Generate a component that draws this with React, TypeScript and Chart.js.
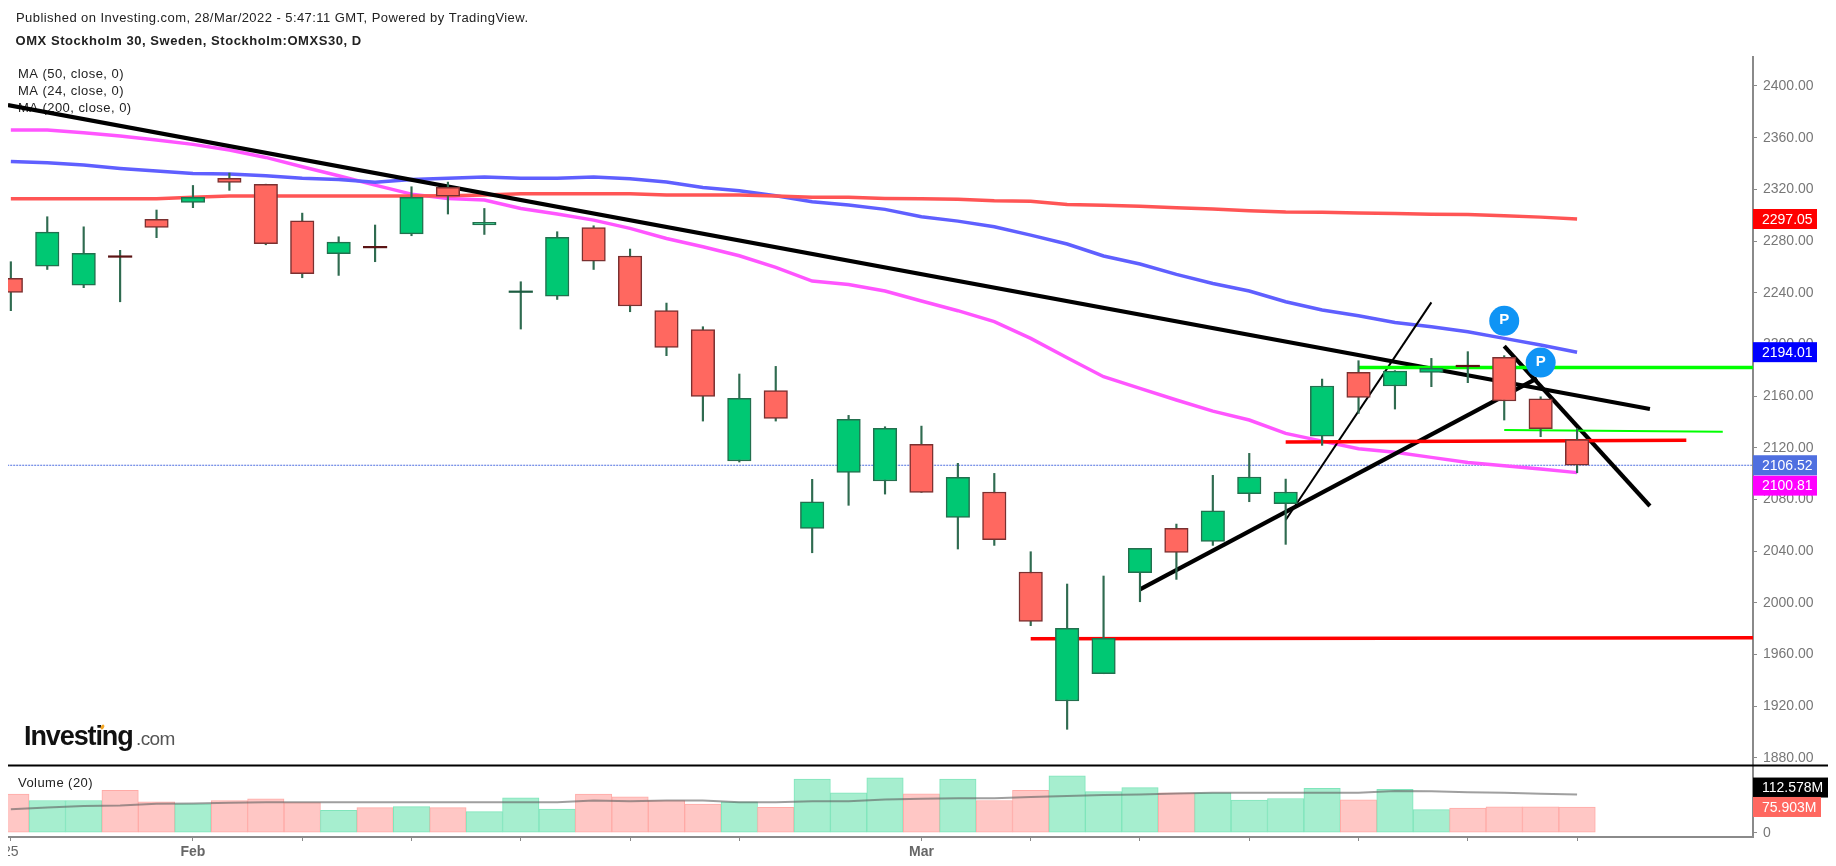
import React, { useEffect, useRef } from "react";
import { Chart, registerables } from "chart.js";

Chart.register(...registerables);

const opens = [2251.1, 2260.6, 2245.9, 2268.6, 2296.7, 2309.9, 2328.5, 2323.8, 2295.7, 2270.2, 2275.9, 2285.6, 2321.5, 2292.4, 2240.2, 2237.4, 2290.5, 2268.4, 2226.1, 2211.4, 2109.8, 2164.2, 2057.7, 2101, 2094.3, 2122.7, 2066.2, 2085.8, 2023.9, 1924.1, 1945.2, 2023.4, 2057.7, 2047.6, 2084.5, 2076.8, 2129.1, 2178.4, 2167.8, 2178.4, 2183.9, 2190, 2158, 2126.3];
const closes = [2240.3, 2286.9, 2270.4, 2267.4, 2290.5, 2313.8, 2325.4, 2277.9, 2254.7, 2279.2, 2274.7, 2313.8, 2314.8, 2294.4, 2241.4, 2282.8, 2264.5, 2229.7, 2197.7, 2159.8, 2158.2, 2142.8, 2078.3, 2142, 2135, 2085.5, 2097.1, 2048.9, 1985.7, 1980.3, 1972.6, 2042.2, 2039.1, 2071.3, 2097.4, 2085.8, 2167.8, 2159, 2179.4, 2181.5, 2182.7, 2156.2, 2134.8, 2106.52];
const highs = [2264, 2298.8, 2291, 2272.8, 2304, 2323, 2332.6, 2324, 2301.6, 2283.3, 2292.4, 2322, 2325.6, 2305.2, 2248.5, 2287.2, 2291.8, 2273.8, 2232, 2213.7, 2177.1, 2183, 2095.6, 2145.1, 2136.3, 2136.8, 2108, 2100.2, 2039.6, 2014.6, 2020.8, 2042.2, 2061, 2098.7, 2115.7, 2095.8, 2173.2, 2187.4, 2179.7, 2189.2, 2194.4, 2191.3, 2159.5, 2135];
const lows = [2226.1, 2258, 2243.9, 2233, 2282.6, 2305.8, 2319.2, 2277.1, 2251.6, 2253.4, 2264, 2284.1, 2300.9, 2285.1, 2211.9, 2234.8, 2258, 2225.3, 2191.3, 2140.7, 2109, 2140.7, 2038.8, 2075.5, 2084.2, 2085.5, 2041.7, 2044.5, 1982.4, 1902.2, 1945.2, 2000.9, 2018.2, 2044.5, 2078.3, 2045.3, 2121.9, 2146.6, 2150, 2167.3, 2170.4, 2141.5, 2128.6, 2100.7];
const ma50 = [2341.6, 2340.6, 2338.8, 2336.2, 2334.1, 2332.3, 2331.8, 2330.5, 2328.5, 2327.7, 2325.4, 2327.7, 2328.5, 2329.5, 2328.5, 2328.5, 2329.5, 2328.2, 2325.6, 2321.5, 2318.9, 2315, 2310.4, 2307.8, 2304.5, 2298.8, 2295.4, 2291.1, 2284.6, 2277.7, 2268.4, 2262.2, 2254.2, 2247.2, 2241.3, 2233, 2226.6, 2222.2, 2217, 2213.7, 2209.8, 2204.7, 2199.5, 2194.01];
const ma24 = [2365.9, 2365.9, 2363.8, 2361.2, 2358.1, 2354.8, 2350.4, 2344.7, 2337.5, 2330.5, 2323.3, 2316.3, 2313, 2311.7, 2305.2, 2300.9, 2296.2, 2289.8, 2282, 2275.6, 2268.6, 2259.6, 2249, 2246.4, 2241.3, 2233.6, 2226.1, 2217.6, 2204.7, 2189.7, 2175, 2166, 2157, 2148.4, 2141.5, 2131.2, 2125.2, 2119.3, 2116.5, 2112.6, 2108.7, 2106.2, 2103.6, 2100.81];
const ma200 = [2312.7, 2312.7, 2312.7, 2312.7, 2312.7, 2313.8, 2314.8, 2314.8, 2314.8, 2314.8, 2314.8, 2314.8, 2315, 2315.6, 2316.6, 2316.6, 2316.6, 2316.6, 2315.6, 2315.6, 2315.6, 2314.8, 2313.8, 2313.8, 2313, 2312.7, 2312.4, 2311.2, 2310.7, 2308.3, 2307.6, 2307, 2305.8, 2304.8, 2303.4, 2302.4, 2302.2, 2301.6, 2301.3, 2300.8, 2300.5, 2299.5, 2298.5, 2297.05];
const volumes = [114, 95, 95, 125, 91, 85.5, 95, 100, 88.5, 66, 74, 77, 74, 62, 103, 70, 114, 106, 95, 84.5, 91.4, 75, 158, 118, 162, 115, 158, 95, 125, 168, 121, 133, 118, 118, 96, 101, 131, 97, 128, 68, 73, 76, 76, 75.903];
const volumeMa = [69, 74, 79, 80.6, 85.5, 86.5, 88.5, 90, 90, 90, 90, 90, 90, 90, 90, 90, 95, 93, 95, 95, 90, 90, 93, 93, 98, 100, 102, 102, 105, 108, 111, 113, 116, 118, 118, 118, 117.5, 118, 123, 122, 119, 118, 115, 112.578];

const priceTicks = [1880, 1920, 1960, 2000, 2040, 2080, 2120, 2160, 2200, 2240, 2280, 2320, 2360, 2400];
const volumeTicks = [0, 112.578];
const dateTickIndex = [0, 5, 8, 11, 14, 17, 20, 25, 28, 31, 34, 37, 40, 43];
const dateTickLabels = ["25", "Feb", "", "", "", "", "", "Mar", "", "", "", "", "", ""];

const longTrend = [[-0.08, 2385.2], [45, 2150]];
const steepTrend = [[35, 2064.1], [39, 2232.5]];
const risingTrend = [[31, 2010.5], [41.9, 2173.7]];
const fallingTrend = [[41, 2198.7], [45, 2075]];
const greenUpper = [[37, 2182.2], [47.9, 2182.2]];
const greenLower = [[41, 2133.8], [47, 2132.5]];
const redUpper = [[35, 2124.5], [46, 2125.8]];
const redLower = [[28, 1972.3], [47.9, 1973]];
const lastPrice = [[-0.1, 2106.52], [47.9, 2106.52]];
const pMarkers = [[41, 2218.3], [42, 2186]];

const titleLine = "Published on Investing.com, 28/Mar/2022 - 5:47:11 GMT, Powered by TradingView.";
const symbolLine = "OMX Stockholm 30, Sweden, Stockholm:OMXS30, D";
const maLegend = ["MA (50, close, 0)", "MA (24, close, 0)", "MA (200, close, 0)"];
const volumeLegend = "Volume (20)";

const FONT = '"Liberation Sans", Arial, sans-serif';
const pts = (a: number[][]) => a.map(([x, y]) => ({ x, y }));
const pairs = (a: number[]) => a.map((y, x) => [x, y]);
const isUp = (i: number) => closes[i] >= opens[i];
const isDoji = (i: number) => Math.abs(closes[i] - opens[i]) < 1.6;

const overlay = {
  id: "overlay",
  beforeDatasetsDraw(chart: any) {
    const c = chart.ctx;
    c.save();
    c.textBaseline = "middle";
    c.textAlign = "left";
    c.fillStyle = "#222";
    c.font = `13px ${FONT}`;
    c.letterSpacing = "0.44px";
    c.fillText(titleLine, 8, 10);
    c.font = `bold 13px ${FONT}`;
    c.letterSpacing = "0.55px";
    c.fillText(symbolLine, 7.5, 33);
    c.font = `13px ${FONT}`;
    c.letterSpacing = "0.45px";
    c.fillText(maLegend[0], 10, 66);
    c.fillText(maLegend[1], 10, 83);
    c.fillText(maLegend[2], 10, 100);
    c.fillText(volumeLegend, 10, 775);
    c.textBaseline = "alphabetic";
    c.fillStyle = "#111";
    c.font = `bold 27px ${FONT}`;
    c.letterSpacing = "-1.1px";
    c.fillText("Investing", 16, 737);
    c.fillStyle = "#555";
    c.font = `19px ${FONT}`;
    c.letterSpacing = "-0.6px";
    c.fillText(".com", 128, 737);
    c.fillStyle = "#f5a623";
    c.beginPath();
    c.ellipse(94.5, 719, 1.6, 2.6, 0.5, 0, Math.PI * 2);
    c.fill();
    c.restore();
  },
  afterDatasetsDraw(chart: any) {
    const c = chart.ctx;
    const x = chart.scales.x;
    const y = chart.scales.y;
    c.save();
    c.fillStyle = "#fff";
    c.font = `bold 15px ${FONT}`;
    c.textAlign = "center";
    c.textBaseline = "middle";
    pMarkers.forEach(([px, py]) => c.fillText("P", x.getPixelForValue(px), y.getPixelForValue(py) - 1));
    c.restore();
  },
  afterDraw(chart: any) {
    const c = chart.ctx;
    const y = chart.scales.y;
    const v = chart.scales.volume;
    const right = chart.chartArea.right;
    c.save();
    c.strokeStyle = "#000";
    c.lineWidth = 2;
    c.beginPath();
    c.moveTo(0, y.bottom - 0.5);
    c.lineTo(chart.width, y.bottom - 0.5);
    c.stroke();
    const tag = (text: string, color: string, py: number, w: number) => {
      c.fillStyle = color;
      c.fillRect(right, py - 10, w, 20);
      c.fillStyle = "#fff";
      c.font = `14px ${FONT}`;
      c.textAlign = "left";
      c.textBaseline = "middle";
      c.fillText(text, right + 9, py + 1);
    };
    tag("2297.05", "#ff0000", y.getPixelForValue(2297.05), 64);
    tag("2194.01", "#0000ff", y.getPixelForValue(2194.01), 64);
    tag("2100.81", "#ff00ff", y.getPixelForValue(2100.81) + 13, 64);
    tag("2106.52", "#4f6fe0", y.getPixelForValue(2106.52), 64);
    tag("112.578M", "#000000", v.getPixelForValue(112.578) - 7, 76);
    tag("75.903M", "#ff6860", v.getPixelForValue(75.903), 68);
    c.restore();
  },
};

const trend = (data: number[][], color: string, width: number, order = 5, extra: any = {}) => ({
  type: "line",
  data: pts(data),
  borderColor: color,
  borderWidth: width,
  pointRadius: 0,
  tension: 0,
  yAxisID: "y",
  order,
  ...extra,
});

export default function App() {
  const ref = useRef<HTMLCanvasElement | null>(null);
  useEffect(() => {
    if (!ref.current) return;
    const chart = new Chart(ref.current, {
      type: "bar",
      data: {
        datasets: [
          {
            type: "bar",
            data: volumes.map((y, x) => ({ x, y })),
            yAxisID: "volume",
            grouped: false,
            barThickness: 36.43,
            backgroundColor: (k: any) => (isUp(k.dataIndex) ? "#a6eecf" : "#ffc7c5"),
            borderColor: (k: any) => (isUp(k.dataIndex) ? "#7fe5bb" : "#ffaaa6"),
            borderWidth: 1,
            borderSkipped: false,
            order: 8,
          },
          { type: "line", data: pts(pairs(volumeMa)), yAxisID: "volume", borderColor: "rgba(95,95,95,0.6)", borderWidth: 2, pointRadius: 0, tension: 0, order: 7 },
          trend(lastPrice, "#4f6fe0", 1.2, 9, { borderDash: [2, 1] }),
          trend(pairs(ma200), "#ff5555", 3.5, 6),
          trend(pairs(ma50), "#5f5fff", 3.5, 6),
          trend(pairs(ma24), "#ff55ff", 3.5, 6),
          trend(redLower, "#ff0000", 3.5),
          trend(redUpper, "#ff0000", 3.5),
          trend(greenUpper, "#00ff00", 3.5),
          trend(greenLower, "#00ff00", 2),
          trend(longTrend, "#000000", 4.2),
          trend(steepTrend, "#000000", 2),
          trend(risingTrend, "#000000", 4.2),
          trend(fallingTrend, "#000000", 4.2),
          {
            type: "bar",
            data: highs.map((h, x) => ({ x, y: [lows[x], h] })),
            yAxisID: "y",
            grouped: false,
            barThickness: 1.5,
            backgroundColor: "#2f6b50",
            borderWidth: 0,
            order: 2,
          },
          {
            type: "bar",
            data: opens.map((o, x) => ({ x, y: [o, closes[x]] })),
            yAxisID: "y",
            grouped: false,
            barThickness: 23.5,
            backgroundColor: (k: any) =>
              isDoji(k.dataIndex) ? (isUp(k.dataIndex) ? "#1c5c40" : "#5b1414") : isUp(k.dataIndex) ? "#00c873" : "#ff6860",
            borderColor: (k: any) => (isUp(k.dataIndex) ? "#22704e" : "#7a3030"),
            borderWidth: (k: any) => (isDoji(k.dataIndex) ? 0 : 1.5),
            borderSkipped: false,
            order: 1,
          },
          {
            type: "line",
            data: pts(pMarkers),
            yAxisID: "y",
            showLine: false,
            pointRadius: 15,
            pointBackgroundColor: "#0f94f5",
            pointBorderWidth: 0,
            order: 0,
          },
        ] as any,
      },
      options: {
        responsive: false,
        animation: false,
        devicePixelRatio: 1,
        layout: { padding: { top: 49, left: 0, right: 0, bottom: 0 }, autoPadding: false },
        plugins: { legend: { display: false }, title: { display: false }, tooltip: { enabled: false } },
        scales: {
          x: {
            type: "linear",
            offset: false,
            min: -0.078,
            max: 47.83,
            afterFit: (s: any) => { s.height = 21; s.paddingLeft = 0; s.paddingRight = 0; },
            afterBuildTicks: (s: any) => { s.ticks = dateTickIndex.map((value) => ({ value })); },
            border: { display: true, color: "#8a8a8a", width: 2 },
            grid: { drawOnChartArea: false, drawTicks: true, tickLength: 4, tickColor: "#8a8a8a", offset: false },
            ticks: {
              autoSkip: false,
              maxRotation: 0,
              padding: 3,
              color: "#666",
              font: (k: any) => ({ family: FONT, size: 14, weight: k.index > 0 ? "bold" : "normal" }),
              callback: (v: any) => dateTickLabels[dateTickIndex.indexOf(v)] ?? "",
            },
          },
          y: {
            type: "linear",
            position: "right",
            stack: "panes",
            stackWeight: 709,
            weight: 1,
            min: 1873.8,
            max: 2422.4,
            afterFit: (s: any) => { s.width = 83; s.paddingTop = 0; s.paddingBottom = 0; },
            afterBuildTicks: (s: any) => { s.ticks = priceTicks.map((value) => ({ value })); },
            border: { display: true, color: "#8a8a8a", width: 2 },
            grid: { drawOnChartArea: false, drawTicks: true, tickLength: 4, tickColor: "#8a8a8a" },
            ticks: { autoSkip: false, padding: 6, color: "#777", font: { family: FONT, size: 14 }, callback: (v: any) => Number(v).toFixed(2) },
          },
          volume: {
            type: "linear",
            position: "right",
            stack: "panes",
            stackWeight: 71,
            weight: 2,
            min: -12.7,
            max: 196.8,
            afterFit: (s: any) => { s.width = 83; s.paddingTop = 0; s.paddingBottom = 0; },
            afterBuildTicks: (s: any) => { s.ticks = volumeTicks.map((value) => ({ value })); },
            border: { display: true, color: "#8a8a8a", width: 2 },
            grid: { drawOnChartArea: false, drawTicks: true, tickLength: 4, tickColor: "#8a8a8a" },
            ticks: { autoSkip: false, padding: 6, color: "#777", font: { family: FONT, size: 14 }, callback: (v: any) => (v === 0 ? "0" : "") },
          },
        },
      } as any,
      plugins: [overlay],
    } as any);
    return () => chart.destroy();
  }, []);
  return <canvas ref={ref} width={1828} height={850} style={{ display: "block" }} />;
}
